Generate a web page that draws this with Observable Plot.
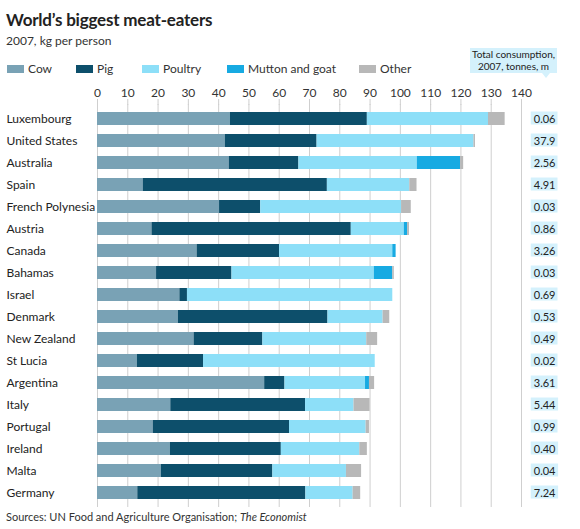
<!DOCTYPE html>
<html>
<head>
<meta charset="utf-8">
<script src="https://cdn.jsdelivr.net/npm/d3@7"></script>
<script src="https://cdn.jsdelivr.net/npm/@observablehq/plot@0.6"></script>
<style>
  body { margin: 0; background: #fff; font-family: Lato, "Open Sans", sans-serif; color: #222; }
  #wrap { position: relative; width: 580px; height: 529px; overflow: hidden; }
  #title { position: absolute; left: 6px; top: 9px; font-size: 17px; font-weight: bold; letter-spacing: -0.2px; }
  #subtitle { position: absolute; left: 6px; top: 33px; font-size: 12px; color: #333; }
  #legend { position: absolute; left: 7px; top: 61px; font-size: 12px; color: #333; }
  #legend .item { position: absolute; white-space: nowrap; display: flex; align-items: center; }
  #legend .sw { display: inline-block; width: 17px; height: 8px; margin-right: 4px; }
  #totbox { position: absolute; left: 470px; top: 48px; width: 87px; height: 25px; background: #d4f1fc;
            font-size: 10px; line-height: 12px; text-align: center; color: #222; }
  #totbox:after { content: ""; position: absolute; left: 72px; top: 25px; border-left: 4px solid transparent;
            border-right: 4px solid transparent; border-top: 5px solid #d4f1fc; }
  #chart { position: absolute; left: 0; top: 80px; }
  #caption { position: absolute; left: 6px; top: 510px; font-size: 11px; color: #333; }
</style>
</head>
<body>
<div id="wrap">
  <div id="title">World’s biggest meat-eaters</div>
  <div id="subtitle">2007, kg per person</div>
  <div id="legend"></div>
  <div id="totbox">Total consumption,<br>2007, tonnes, m</div>
  <div id="chart"></div>
  <div id="caption">Sources: UN Food and Agriculture Organisation; <i>The Economist</i></div>
</div>
<script>
const countries = ["Luxembourg","United States","Australia","Spain","French Polynesia","Austria","Canada","Bahamas","Israel","Denmark","New Zealand","St Lucia","Argentina","Italy","Portugal","Ireland","Malta","Germany"];
const types = ["Cow","Pig","Poultry","Mutton and goat","Other"];
const colors = ["#79a2b5","#0d4f6b","#8ddff8","#17aae2","#b8b8b8"];
const cow     = [43.9,42.2,43.5,15.1,40.3,18.0,32.9,19.5,27.2,26.7,31.9,13.2,55.2,24.2,18.4,24.1,21.1,13.3];
const pig     = [45.2,30.3,23.0,60.8,13.6,65.8,27.2,24.9, 2.5,49.4,22.7,21.8, 6.7,44.5,45.0,36.6,36.8,55.5];
const poultry = [40.0,51.8,39.1,27.2,46.5,17.5,37.4,47.0,67.8,18.2,34.3,56.7,26.6,16.0,25.3,25.9,24.3,15.6];
const mutton  = [ 0.0, 0.0,14.3, 0.0, 0.0, 1.1, 1.1, 6.1, 0.0, 0.0, 0.0, 0.0, 1.3, 0.0, 0.0, 0.0, 0.0, 0.0];
const other   = [ 5.5, 0.5, 1.0, 2.4, 3.2, 0.6, 0.0, 0.5, 0.0, 2.2, 3.6, 0.0, 1.7, 5.3, 1.1, 2.5, 5.0, 2.5];
const totals  = ["0.06","37.9","2.56","4.91","0.03","0.86","3.26","0.03","0.69","0.53","0.49","0.02","3.61","5.44","0.99","0.40","0.04","7.24"];
const xTicks  = [0,10,20,30,40,50,60,70,80,90,100,110,120,130,140];

const series = [cow, pig, poultry, mutton, other];
const rows = [];
types.forEach((t, j) => countries.forEach((c, i) => rows.push({country: c, type: t, value: series[j][i]})));
const totalRows = countries.map((c, i) => ({country: c, total: totals[i]}));

// legend
const legendPos = [0, 69, 135, 220, 352];
const lg = document.getElementById("legend");
types.forEach((t, j) => {
  const it = document.createElement("div");
  it.className = "item";
  it.style.left = legendPos[j] + "px";
  it.innerHTML = `<span class="sw" style="background:${colors[j]}"></span>${t}`;
  lg.appendChild(it);
});

const tagGroup = (cls) => (index, scales, values, dimensions, context, next) => {
  const g = next(index, scales, values, dimensions, context);
  g.setAttribute("class", cls);
  return g;
};

const plot = Plot.plot({
  width: 580,
  height: 427,
  marginLeft: 97,
  marginRight: 59,
  marginTop: 24,
  marginBottom: 0,
  style: {fontFamily: "Lato, 'Open Sans', sans-serif", fontSize: "12px", color: "#333", background: "#fff"},
  x: {domain: [0, 140], axis: null},
  y: {domain: countries, paddingInner: 0.42, paddingOuter: 0.21, axis: null},
  color: {domain: types, range: colors},
  marks: [
    Plot.ruleX(xTicks, {stroke: "#cfcfcf", strokeWidth: 1}),
    Plot.axisX(xTicks, {anchor: "top", label: null, tickSize: 6, tickPadding: 2, stroke: "#cfcfcf", fill: "#333", fontSize: 12, tickFormat: d => d}),
    Plot.barX(rows, Plot.stackX({x: "value", y: "country", fill: "type", order: types})),
    Plot.text(countries, {y: d => d, frameAnchor: "left", textAnchor: "start", dx: -91, fill: "#222", fontSize: 12}),
    Plot.text(totalRows, {y: "country", text: "total", frameAnchor: "right", textAnchor: "end", dx: 34, fill: "#222", fontSize: 11, render: tagGroup("totvals")})
  ]
});
document.getElementById("chart").appendChild(plot);

// light boxes behind the total-consumption values
d3.select(plot).selectAll("g.totvals text").each(function() {
  const b = this.getBBox();
  const tr = this.getAttribute("transform");
  const r = d3.select(this.parentNode).insert("rect", () => this)
    .attr("x", b.x - 3).attr("y", b.y).attr("width", b.width + 5).attr("height", b.height)
    .attr("fill", "#d4f1fc");
  if (tr) r.attr("transform", tr);
});
</script>
</body>
</html>
